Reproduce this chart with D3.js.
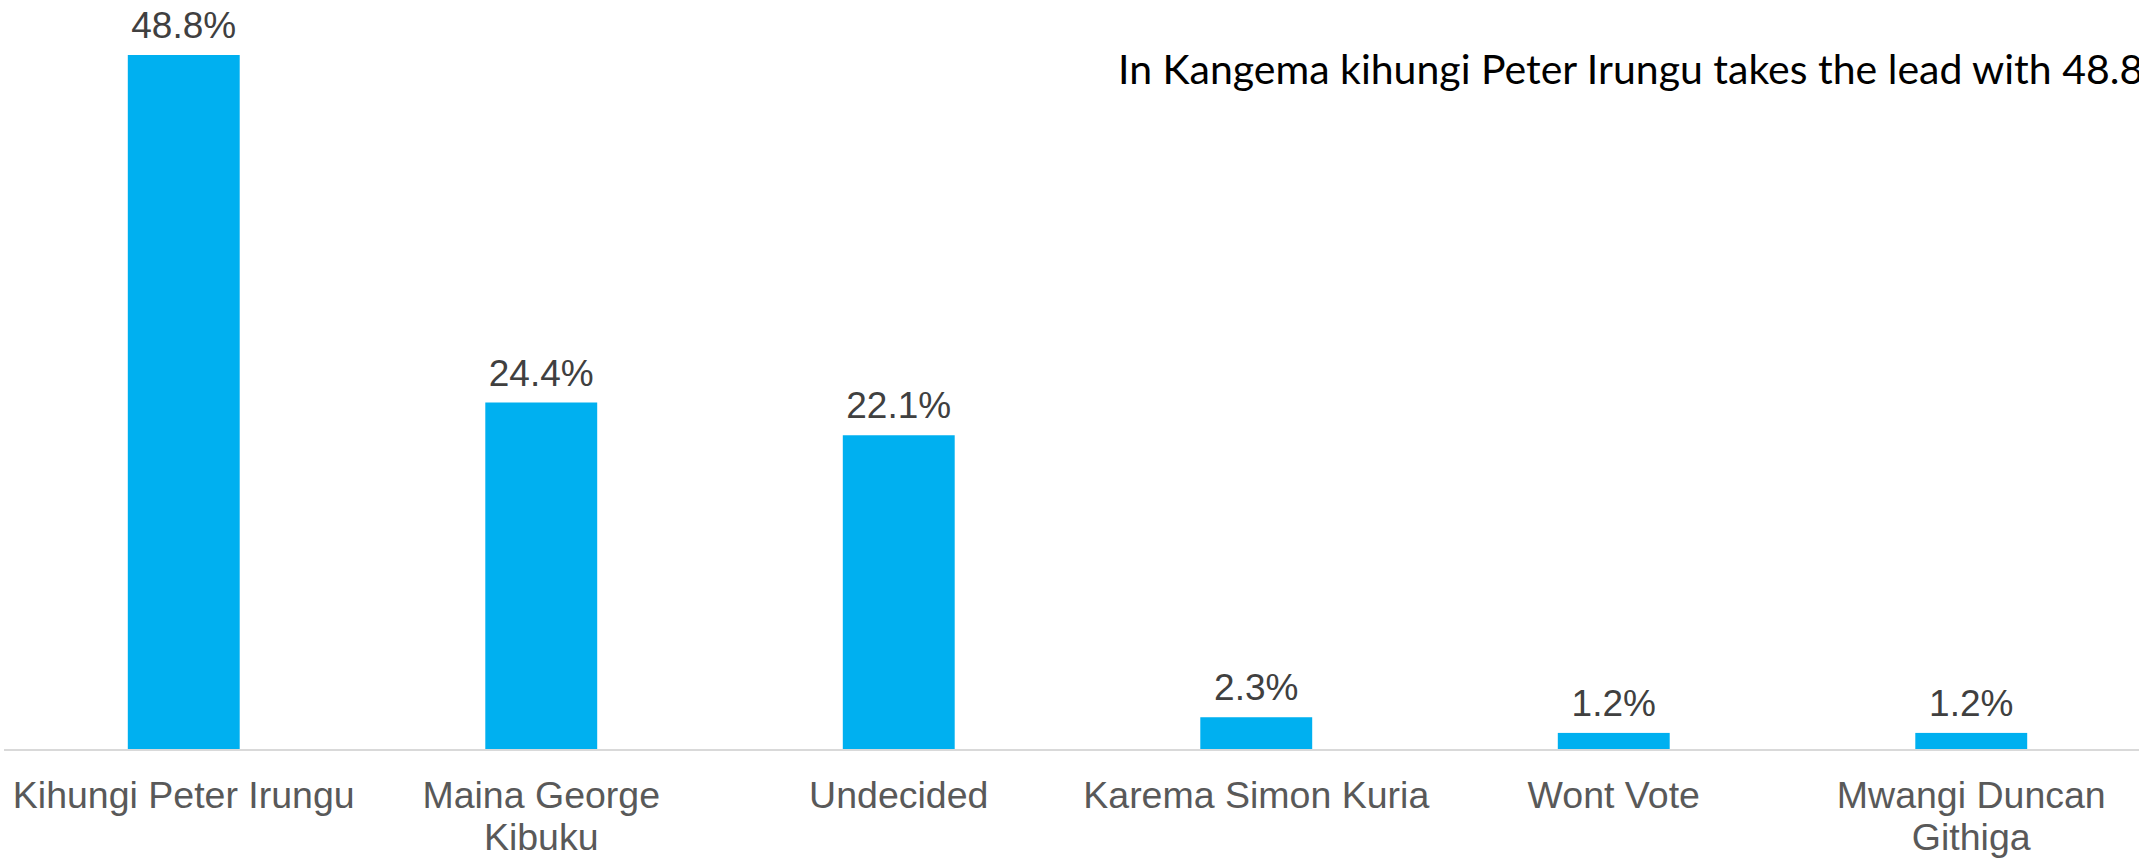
<!DOCTYPE html>
<html>
<head>
<meta charset="utf-8">
<script src="https://cdn.jsdelivr.net/npm/d3@7"></script>
<style>
  html, body { margin: 0; padding: 0; background: #fff; overflow: hidden; }
  svg { display: block; }
</style>
</head>
<body>
<div id="chart"></div>
<script>
/* ========================================================================== */
/* =========================== Data ========================================= */

var categories = [
    "Kihungi Peter Irungu",
    "Maina George Kibuku",
    "Undecided",
    "Karema Simon Kuria",
    "Wont Vote",
    "Mwangi Duncan Githiga"
];
var values = [48.8, 24.4, 22.1, 2.3, 1.2, 1.2];
var valueLabels = ["48.8%", "24.4%", "22.1%", "2.3%", "1.2%", "1.2%"];
var title = "In Kangema kihungi Peter Irungu takes the lead with 48.8%";

/* ========================================================================== */
/* =========================== Variables ==================================== */

var width = 2139;
var height = 858;
var baseY = 750;
var barColor = "#00b0f0";

var svg = d3.select("#chart").append("svg")
            .attr("width", width)
            .attr("height", height);

// bands run a little past the right edge, like the original slide
var x = d3.scaleBand()
          .domain(categories)
          .range([5, 2150])
          .paddingInner(0.687)
          .paddingOuter(0.3435);

var y = d3.scaleLinear()
          .domain([0, d3.max(values)])
          .range([baseY, 55]);

var data = categories.map(function(c, i) {
    return { name: c, value: values[i], label: valueLabels[i] };
});

/* ========================================================================== */

// bars
svg.selectAll(".bar")
    .data(data)
    .enter().append("rect")
    .attr("class", "bar")
    .attr("x", function(d) { return x(d.name); })
    .attr("y", function(d) { return y(d.value); })
    .attr("width", x.bandwidth())
    .attr("height", function(d) { return baseY - y(d.value); })
    .attr("fill", barColor);

// value labels
svg.selectAll(".value")
    .data(data)
    .enter().append("text")
    .attr("class", "value")
    .attr("x", function(d) { return x(d.name) + x.bandwidth() / 2; })
    .attr("y", function(d) { return y(d.value) - 17; })
    .attr("text-anchor", "middle")
    .style("font-family", "'Liberation Sans', Arial, sans-serif")
    .style("font-size", "37px")
    .style("fill", "#404040")
    .text(function(d) { return d.label; });

// axis with no ticks, only the base line and the category names
var xAxis = d3.axisBottom(x).tickSize(0).tickPadding(0);
var axisG = svg.append("g")
    .attr("transform", "translate(0," + baseY + ")")
    .call(xAxis);

axisG.select(".domain").remove();
axisG.append("line")
    .attr("x1", 4)
    .attr("x2", width)
    .attr("y1", 0)
    .attr("y2", 0)
    .attr("stroke", "#d9d9d9")
    .attr("stroke-width", 2);

axisG.selectAll(".tick text")
    .style("font-family", "'Liberation Sans', Arial, sans-serif")
    .style("font-size", "37.5px")
    .attr("fill", "#595959")
    .attr("y", 58)
    .attr("dy", 0)
    .call(wrap, 355);

// title, clipped at the right edge as in the source
svg.append("text")
    .attr("x", 1118)
    .attr("y", 84)
    .style("font-family", "Lato, 'Open Sans', sans-serif")
    .style("font-size", "41px")
    .style("fill", "#000")
    .text(title);

/*
  breaks long tick labels into lines no wider than maxWidth
*/
function wrap(texts, maxWidth) {
    texts.each(function() {
        var text = d3.select(this);
        var words = text.text().split(/\s+/);
        var yPos = text.attr("y");
        var line = [];
        var lineNo = 0;
        text.text(null);
        var tspan = text.append("tspan").attr("x", 0).attr("y", yPos);
        words.forEach(function(word) {
            line.push(word);
            tspan.text(line.join(" "));
            if (tspan.node().getComputedTextLength() > maxWidth && line.length > 1) {
                line.pop();
                tspan.text(line.join(" "));
                line = [word];
                lineNo++;
                tspan = text.append("tspan")
                            .attr("x", 0)
                            .attr("y", +yPos + lineNo * 42)
                            .text(word);
            }
        });
    });
}
</script>
</body>
</html>
